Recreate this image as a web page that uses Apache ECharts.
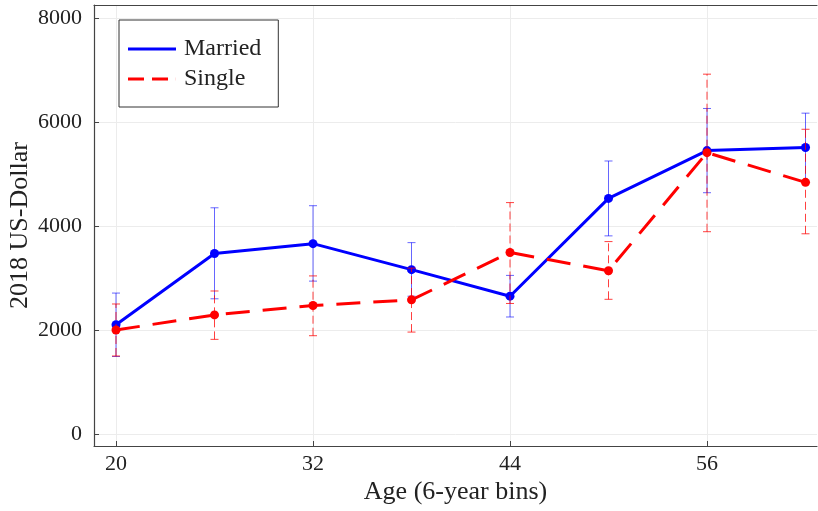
<!DOCTYPE html>
<html>
<head>
<meta charset="utf-8">
<script src="https://cdn.jsdelivr.net/npm/echarts@6/dist/echarts.min.js"></script>
<style>
html,body{margin:0;padding:0;background:#fff;overflow:hidden;}
#chart{width:818px;height:511px;}
</style>
</head>
<body>
<div id="chart"></div>
<script>
const ages = [20, 26, 32, 38, 44, 50, 56, 62];
const marriedMean = [2100, 3470, 3660, 3160, 2650, 4530, 5450, 5510];
const marriedLow  = [1490, 2600, 2940, 2650, 2250, 3810, 4640, 4860];
const marriedHigh = [2710, 4350, 4390, 3680, 3050, 5250, 6260, 6170];
const singleMean  = [2000, 2290, 2470, 2580, 3490, 3140, 5410, 4840];
const singleLow   = [1500, 1820, 1890, 1960, 2510, 2590, 3890, 3850];
const singleHigh  = [2500, 2750, 3040, 3190, 4450, 3700, 6920, 5860];
const xTicks = [20, 32, 44, 56];
const yTicks = [0, 2000, 4000, 6000, 8000];

const FONT = 'Liberation Serif';
const chart = echarts.init(document.getElementById('chart'), null, {renderer: 'canvas'});

function errRender(color, dash) {
  return function (params, api) {
    const x = api.value(0), lo = api.value(1), hi = api.value(2);
    const a = api.coord([x, lo]), b = api.coord([x, hi]);
    const c = 4;
    const st = {stroke: color, lineWidth: 1, lineDash: dash};
    const cs = {stroke: color, lineWidth: 1};
    return {type: 'group', children: [
      {type: 'line', shape: {x1: a[0], y1: a[1], x2: b[0], y2: b[1]}, style: st},
      {type: 'line', shape: {x1: a[0] - c, y1: a[1], x2: a[0] + c, y2: a[1]}, style: cs},
      {type: 'line', shape: {x1: b[0] - c, y1: b[1], x2: b[0] + c, y2: b[1]}, style: cs}
    ]};
  };
}

const option = {
  animation: false,
  backgroundColor: '#fff',
  grid: {left: 94, top: 5, right: 1, bottom: 65, outerBoundsMode: 'none', containLabel: false},
  legend: {
    orient: 'vertical',
    left: 119, top: 20,
    padding: [16, 17, 15, 9],
    itemGap: 4,
    itemWidth: 48, itemHeight: 3,
    borderColor: '#333', borderWidth: 1, backgroundColor: '#fff',
    textStyle: {fontFamily: FONT, fontSize: 24, color: '#222', padding: [0, 0, 0, 3], lineHeight: 26},
    data: [
      {name: 'Married', icon: 'path://M0,0h48v3h-48z'},
      {name: 'Single', icon: 'path://M0,0h16v3h-16z M24,0h16v3h-16z M47.9,0h0.1v3h-0.1z'}
    ]
  },
  xAxis: [{
    type: 'value', min: 18.66, max: 62.7,
    name: 'Age (6-year bins)', nameLocation: 'middle', nameGap: 33, nameMoveOverlap: false,
    nameTextStyle: {fontFamily: FONT, fontSize: 26, color: '#222'},
    axisLine: {show: true, onZero: false, lineStyle: {color: '#444', width: 1.2}},
    axisTick: {show: true, inside: true, length: 5, customValues: xTicks, lineStyle: {color: '#444'}},
    axisLabel: {customValues: xTicks, margin: 7, fontFamily: FONT, fontSize: 22, color: '#222',
      formatter: v => String(v)},
    splitLine: {show: true, lineStyle: {color: '#ececec', width: 1}}
  }, {
    type: 'value', position: 'top', min: 18.66, max: 62.7,
    axisLine: {show: true, onZero: false, lineStyle: {color: '#444', width: 1.2}},
    axisTick: {show: false}, axisLabel: {show: false}, splitLine: {show: false}
  }],
  yAxis: {
    type: 'value', min: -231, max: 8250,
    name: '2018 US-Dollar', nameLocation: 'middle', nameGap: 61, nameMoveOverlap: false,
    nameTextStyle: {fontFamily: FONT, fontSize: 26, color: '#222'},
    axisLine: {show: true, onZero: false, lineStyle: {color: '#444', width: 1.2}},
    axisTick: {show: true, inside: true, length: 5, customValues: yTicks, lineStyle: {color: '#444'}},
    axisLabel: {customValues: yTicks, margin: 12, fontFamily: FONT, fontSize: 22, color: '#222',
      formatter: v => String(v)},
    splitLine: {show: true, lineStyle: {color: '#ececec', width: 1}}
  },
  series: [
    {
      type: 'custom', name: 'MarriedErr', z: 2, silent: true,
      renderItem: errRender('rgba(0,0,255,0.6)', null),
      encode: {x: 0, y: [1, 2]},
      data: ages.map((a, i) => [a, marriedLow[i], marriedHigh[i]])
    },
    {
      type: 'line', name: 'Married', z: 3,
      color: '#0000ff',
      symbol: 'circle', symbolSize: 9,
      lineStyle: {width: 3, color: '#0000ff'},
      itemStyle: {color: '#0000ff'},
      data: ages.map((a, i) => [a, marriedMean[i]])
    },
    {
      type: 'custom', name: 'SingleErr', z: 4, silent: true,
      renderItem: errRender('rgba(255,0,0,0.75)', [8, 4]),
      encode: {x: 0, y: [1, 2]},
      data: ages.map((a, i) => [a, singleLow[i], singleHigh[i]])
    },
    {
      type: 'line', name: 'Single', z: 5,
      color: '#ff0000',
      symbol: 'circle', symbolSize: 9,
      lineStyle: {width: 3, color: '#ff0000', type: [24, 13]},
      itemStyle: {color: '#ff0000'},
      data: ages.map((a, i) => [a, singleMean[i]])
    }
  ]
};
chart.setOption(option);
</script>
</body>
</html>
